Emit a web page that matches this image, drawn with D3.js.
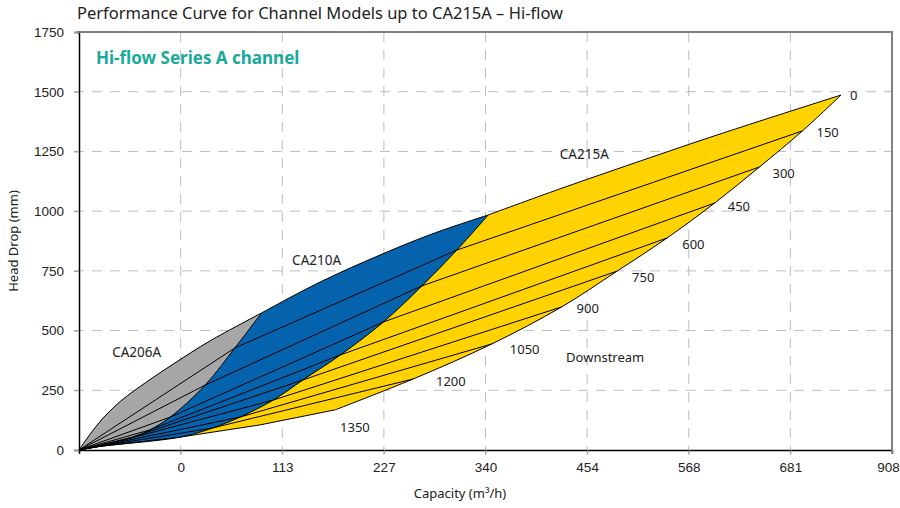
<!DOCTYPE html>
<html>
<head>
<meta charset="utf-8">
<script src="https://cdn.jsdelivr.net/npm/d3@7"></script>
<style>
  body { margin: 0; background: #fff; }
  svg { display: block; font-family: "Noto Sans", sans-serif; }
</style>
</head>
<body>
<svg id="chart"></svg>
<script>
// Performance curve, channel models up to CA215A (Hi-flow)
const width = 900, height = 508;
const margin = { top: 32, right: 8, bottom: 58, left: 79 };

// Downstream levels (mm), one curve each: [capacity m3/h, head drop mm]
const downstreamLevels = [0, 150, 300, 450, 600, 750, 900, 1050, 1200, 1350];
// top curve (downstream 0) split at the model limits
const curveD0Grey = [[0,0],[7,38],[16,84],[29,142],[48,209],[74,281],[107,364],[146,456],[204,574]];
const curveD0Blue = [[204,574],[267,699],[331,808],[394,904],[457,984]];
const curveD0Yellow = [[457,984],[537,1093],[627,1210],[716,1323],[851,1486]];
const curveD150 = [[0,0],[174,427],[422,837],[808,1336]];
const curveD300 = [[0,0],[141,272],[383,687],[760,1185]];
const curveD450 = [[0,0],[102,138],[340,536],[710,1034]];
const curveD600 = [[0,0],[79,84],[292,398],[657,888]];
const curveD750 = [[0,0],[60,54],[250,293],[601,749]];
const curveD900 = [[0,0],[46,38],[217,209],[539,599]];
const curveD1050 = [[0,0],[35,25],[180,138],[461,444]];
const curveD1200 = [[0,0],[26,17],[149,92],[373,297]];
const curveD1350 = [[0,0],[19,13],[113,54],[202,105],[286,168]];
const lowerCurves = [curveD150, curveD300, curveD450, curveD600,
  curveD750, curveD900, curveD1050, curveD1200, curveD1350];

// Model capacity limits (upper end of CA206A and CA210A)
const limitCA206A = [[0,0],[19,13],[26,17],[35,25],[46,38],[60,54],[79,84],[102,138],[141,272],[174,427],[204,574]];
const limitCA210A = [[0,0],[19,13],[113,54],[149,92],[180,138],[217,209],[250,293],[292,398],[340,536],[383,687],[422,837],[457,984]];

const modelNames = ["CA206A", "CA210A", "CA215A"];
const modelColors = ["#a6a6a6", "#0563ad", "#ffd200"];
const modelLabelAt = [[37, 410], [238, 795], [537, 1240]];

// Axes
const xTickValues = [113.5, 227, 340.5, 454, 567.5, 681, 794.5, 908];
const xTickLabels = ["0", "113", "227", "340", "454", "568", "681", "908"];
const yTickValues = [0, 250, 500, 750, 1000, 1250, 1500, 1750];

// label offsets (px) for downstream values
const levelLabelOffset = [[9,0],[14,2],[13,6],[13,3],[15,7],[15,6],[15,2],[18,6],[23,2],[5,18]];

const svg = d3.select("#chart").attr("width", width).attr("height", height);

const x = d3.scaleLinear().domain([0, 908]).range([margin.left, width - margin.right]);
const y = d3.scaleLinear().domain([0, 1750]).range([height - margin.bottom, margin.top]);

// grid
const grid = svg.append("g").attr("stroke", "#bdbdbd").attr("stroke-dasharray", "10,8").attr("stroke-width", 1);
grid.selectAll("line.h").data(yTickValues.filter(v => v > 0 && v < 1750)).join("line")
  .attr("x1", margin.left - 5).attr("x2", x(908))
  .attr("y1", d => y(d)).attr("y2", d => y(d));
grid.selectAll("line.v").data(xTickValues.filter(v => v < 908)).join("line")
  .attr("x1", d => x(d)).attr("x2", d => x(d))
  .attr("y1", y(1750)).attr("y2", y(0) + 5);

// line generators: straight segments for the level curves, smooth for envelopes
const line = d3.line().x(d => x(d[0])).y(d => y(d[1]));
const smooth = d3.line().x(d => x(d[0])).y(d => y(d[1])).curve(d3.curveCatmullRom.alpha(0.5));
const cont = p => p.replace(/^M/, "L");

const lowerEndpoints = lowerCurves.map(c => c[c.length - 1]);
const rightEdge = [curveD0Yellow[curveD0Yellow.length - 1]].concat(lowerEndpoints);
const topGrey = smooth(curveD0Grey), topBlue = smooth(curveD0Blue), topYellow = smooth(curveD0Yellow);

svg.append("path")
  .attr("d", topGrey + cont(topBlue) + cont(topYellow) + cont(smooth(rightEdge))
    + cont(line(curveD1350.slice().reverse())) + "Z")
  .attr("fill", modelColors[2]);
svg.append("path")
  .attr("d", topGrey + cont(topBlue) + cont(smooth(limitCA210A.slice().reverse())) + "Z")
  .attr("fill", modelColors[1]);
svg.append("path")
  .attr("d", topGrey + cont(smooth(limitCA206A.slice().reverse())) + "Z")
  .attr("fill", modelColors[0]);

// curve lines
const lines = svg.append("g").attr("fill", "none").attr("stroke", "#000").attr("stroke-width", 1)
  .attr("stroke-linejoin", "round");
lines.selectAll("path.level").data(lowerCurves).join("path").attr("class", "level").attr("d", line);
lines.selectAll("path.edge").data([curveD0Grey, curveD0Blue, curveD0Yellow, rightEdge, limitCA206A, limitCA210A])
  .join("path").attr("class", "edge").attr("d", smooth);

// downstream labels
svg.append("g").attr("font-size", 13).attr("fill", "#222")
  .selectAll("text").data(downstreamLevels).join("text")
  .attr("x", (d, i) => x(rightEdge[i][0]) + levelLabelOffset[i][0])
  .attr("y", (d, i) => y(rightEdge[i][1]) + levelLabelOffset[i][1])
  .attr("dy", "0.35em")
  .text(d => d);

svg.append("text").attr("x", x(544)).attr("y", y(389)).attr("dy", "0.35em")
  .attr("font-size", 13).attr("fill", "#222").text("Downstream");

// model labels
svg.append("g").attr("font-size", 13.5).attr("fill", "#222")
  .selectAll("text").data(modelNames).join("text")
  .attr("x", (d, i) => x(modelLabelAt[i][0]))
  .attr("y", (d, i) => y(modelLabelAt[i][1]))
  .attr("dy", "0.35em")
  .text(d => d);

// axes
const xAxis = d3.axisBottom(x).tickValues(xTickValues).tickFormat((d, i) => xTickLabels[i])
  .tickSize(4).tickPadding(8);
const yAxis = d3.axisLeft(y).tickValues(yTickValues).tickFormat(d3.format("d")).tickSize(5).tickPadding(10);

svg.append("g").attr("transform", `translate(0,${y(0)})`).call(xAxis)
  .call(g => g.selectAll("text").attr("font-size", 13.5).attr("fill", "#222").attr("font-family", null))
  .call(g => g.selectAll(".tick:last-of-type text").attr("dx", "-4"))
  .call(g => g.selectAll(".tick line").attr("stroke", "#999"))
  .call(g => g.select(".domain").attr("stroke", "#000").attr("stroke-width", 1.5));
svg.append("g").attr("transform", `translate(${margin.left},0)`).call(yAxis)
  .call(g => g.selectAll("text").attr("font-size", 13.5).attr("fill", "#222").attr("font-family", null))
  .call(g => g.selectAll(".tick line").attr("stroke", "#999"))
  .call(g => g.select(".domain").attr("stroke", "#000").attr("stroke-width", 1.5));

// top and right frame
svg.append("path")
  .attr("d", `M${margin.left - 2},${y(1750)}H${x(908)}V${y(0) + 4}`)
  .attr("fill", "none").attr("stroke", "#808080").attr("stroke-width", 2);

// titles
svg.append("text").attr("x", 77).attr("y", 19).attr("font-size", 16.5).attr("fill", "#222")
  .text("Performance Curve for Channel Models up to CA215A \u2013 Hi-flow");
svg.append("text").attr("x", 96).attr("y", 64).attr("font-size", 17).attr("font-weight", "bold")
  .attr("fill", "#17a99a").text("Hi-flow Series A channel");

svg.append("text").attr("x", 460).attr("y", 498).attr("text-anchor", "middle")
  .attr("font-size", 13).attr("fill", "#222").text("Capacity (m\u00b3/h)");
svg.append("text").attr("transform", `translate(18,${(y(0) + y(1750)) / 2}) rotate(-90)`)
  .attr("text-anchor", "middle").attr("font-size", 13).attr("fill", "#222").text("Head Drop (mm)");
</script>
</body>
</html>
